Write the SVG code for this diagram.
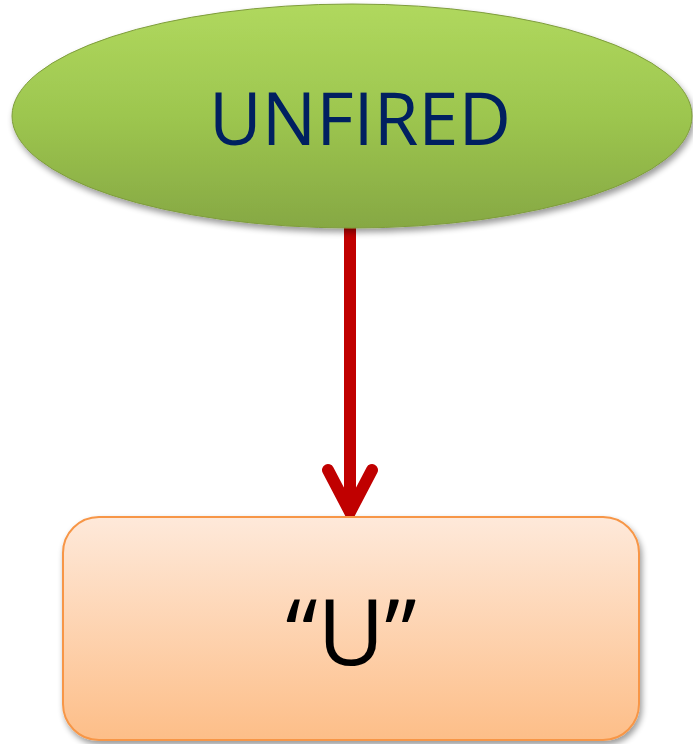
<svg xmlns="http://www.w3.org/2000/svg" width="693" height="744" viewBox="0 0 693 744">
<style>
.lbl{font-family:"Open Sans","Liberation Sans",sans-serif;text-anchor:middle}
</style>
<defs>
<linearGradient id="gGreen" x1="0" y1="0" x2="0" y2="1">
<stop offset="0" stop-color="#B0D85E"/>
<stop offset="0.5" stop-color="#9DC64F"/>
<stop offset="1" stop-color="#86A843"/>
</linearGradient>
<linearGradient id="gOrange" x1="0" y1="0" x2="0" y2="1">
<stop offset="0" stop-color="#FEE9DA"/>
<stop offset="1" stop-color="#FDBE88"/>
</linearGradient>
<filter id="sh" x="-10%" y="-10%" width="125%" height="130%">
<feGaussianBlur in="SourceAlpha" stdDeviation="3"/>
<feOffset dx="2" dy="4"/>
<feComponentTransfer><feFuncA type="linear" slope="0.4"/></feComponentTransfer>
<feMerge><feMergeNode/><feMergeNode in="SourceGraphic"/></feMerge>
</filter>
</defs>
<g id="connectors">
<line x1="350" y1="226" x2="350" y2="510" stroke="#C00000" stroke-width="12"/>
<polyline points="328,470 350,512 372,470" fill="none" stroke="#C00000" stroke-width="12" stroke-linecap="round" stroke-linejoin="miter"/>
</g>
<g id="unfired">
<ellipse cx="352" cy="116" rx="340" ry="112" fill="url(#gGreen)" stroke="#7E9C3C" stroke-width="1" filter="url(#sh)"/>
<text class="lbl" x="360" y="145" font-size="74" fill="#002060" textLength="302" lengthAdjust="spacingAndGlyphs">UNFIRED</text>
</g>
<g id="u">
<rect x="63" y="517" width="576" height="223" rx="36" fill="url(#gOrange)" stroke="#F79646" stroke-width="2" filter="url(#sh)"/>
<text class="lbl" x="351" y="665" font-size="92" fill="#000000">“U”</text>
</g>
</svg>
